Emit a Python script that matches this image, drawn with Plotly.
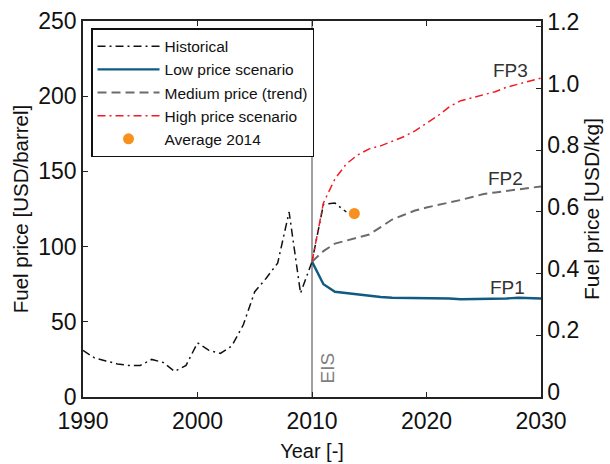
import plotly.graph_objects as go

# ---------------- data ----------------
hist_years = list(range(1990, 2014))
hist_price = [31, 26, 24, 22, 21, 21, 25, 23, 17, 21, 36, 31, 29, 34, 48, 70, 79, 89, 123, 69, 90, 128, 129, 123]

scen_years = list(range(2010, 2031))
low_price = [90, 75, 70, 69, 68, 67, 66.5, 66, 66, 66, 66, 66, 65.5, 65, 65, 65, 65, 65.5, 66, 66, 65.5]
medium_price = [90, 97, 102, 104, 106, 108, 113, 118, 121, 124, 126, 127.5, 129, 131, 133, 135, 136, 137, 138, 139, 140]
high_price = [90, 129, 145, 155, 161, 165, 167, 170, 173, 177, 182, 187, 193, 197, 199, 201, 203, 206, 208, 210, 212]

avg2014_year = [2013.7]
avg2014_price = [122]

eis_year = 2010

fp_labels = ["FP1", "FP2", "FP3"]
fp_x = [2027.1, 2026.9, 2027.3]
fp_y = [73, 145.5, 217]

x_ticks = [1990, 2000, 2010, 2020, 2030]
y_ticks = [0, 50, 100, 150, 200, 250]
y2_tickvals = [0, 0.2, 0.4, 0.6, 0.8, 1.0, 1.2]
y2_ticktext = ["0", "0.2", "0.4", "0.6", "0.8", "1.0", "1.2"]

FONT = "Liberation Sans, Arial, Helvetica, sans-serif"

fig = go.Figure()

fig.add_trace(go.Scatter(x=hist_years, y=hist_price, mode="lines", name="Historical",
                         line=dict(color="#111111", width=1.5, dash="8px,4px,2px,4px")))
fig.add_trace(go.Scatter(x=scen_years, y=low_price, mode="lines", name="Low price scenario",
                         line=dict(color="#0f5b82", width=2.4)))
fig.add_trace(go.Scatter(x=scen_years, y=medium_price, mode="lines", name="Medium price (trend)",
                         line=dict(color="#6b6b6b", width=2, dash="9px,5px")))
fig.add_trace(go.Scatter(x=scen_years, y=high_price, mode="lines", name="High price scenario",
                         line=dict(color="#ee1c25", width=1.5, dash="8px,4px,2px,4px")))
fig.add_trace(go.Scatter(x=avg2014_year, y=avg2014_price, mode="markers", name="Average 2014",
                         marker=dict(color="#f7901e", size=11)))
# empty trace so the secondary (USD/kg) axis is drawn
fig.add_trace(go.Scatter(x=[], y=[], yaxis="y2", showlegend=False, hoverinfo="skip"))

# EIS vertical line
fig.add_shape(type="line", xref="x", yref="y", x0=eis_year, x1=eis_year, y0=0, y1=250,
              line=dict(color="#808080", width=1.5), layer="below")
fig.add_annotation(x=eis_year, y=19, xref="x", yref="y", text="EIS", showarrow=False,
                   textangle=-90, xshift=15, font=dict(family=FONT, size=19, color="#808080"))

for t, xx, yy in zip(fp_labels, fp_x, fp_y):
    fig.add_annotation(x=xx, y=yy, xref="x", yref="y", text=t, showarrow=False,
                       font=dict(family=FONT, size=19, color="#333333"))

axis_common = dict(showline=True, linecolor="#222222", linewidth=1.5, ticks="inside",
                   ticklen=5, tickwidth=1.3, tickcolor="#222222", showgrid=False, zeroline=False,
                   automargin=False,
                   tickfont=dict(family=FONT, size=23, color="#111111"))

fig.update_layout(
    width=610, height=464,
    margin=dict(l=83, r=69, t=21, b=67),
    paper_bgcolor="white", plot_bgcolor="white",
    font=dict(family=FONT, color="#111111"),
    showlegend=True,
    legend=dict(x=0.0175, y=0.981, xanchor="left", yanchor="top", bgcolor="white",
                bordercolor="#111111", borderwidth=1.5, font=dict(family=FONT, size=15.5),
                tracegroupgap=0, itemwidth=62),
    xaxis=dict(range=[1990, 2030], tickvals=x_ticks, mirror="ticks", ticklabelstandoff=3,
               title=dict(text="Year [-]", font=dict(family=FONT, size=20), standoff=11),
               **axis_common),
    yaxis=dict(range=[0, 250], tickvals=y_ticks, mirror=True,
               title=dict(text="Fuel price [USD/barrel]", font=dict(family=FONT, size=20.5), standoff=4),
               **axis_common),
    yaxis2=dict(range=[0, 1.219], tickvals=y2_tickvals, ticktext=y2_ticktext, overlaying="y",
                side="right", anchor="x", ticklabelshift=-5,
                title=dict(text="Fuel price [USD/kg]", font=dict(family=FONT, size=21), standoff=4),
                **axis_common),
)

fig.write_html("out.html", config={"displayModeBar": False},
               post_script="document.body.style.margin='0';")
